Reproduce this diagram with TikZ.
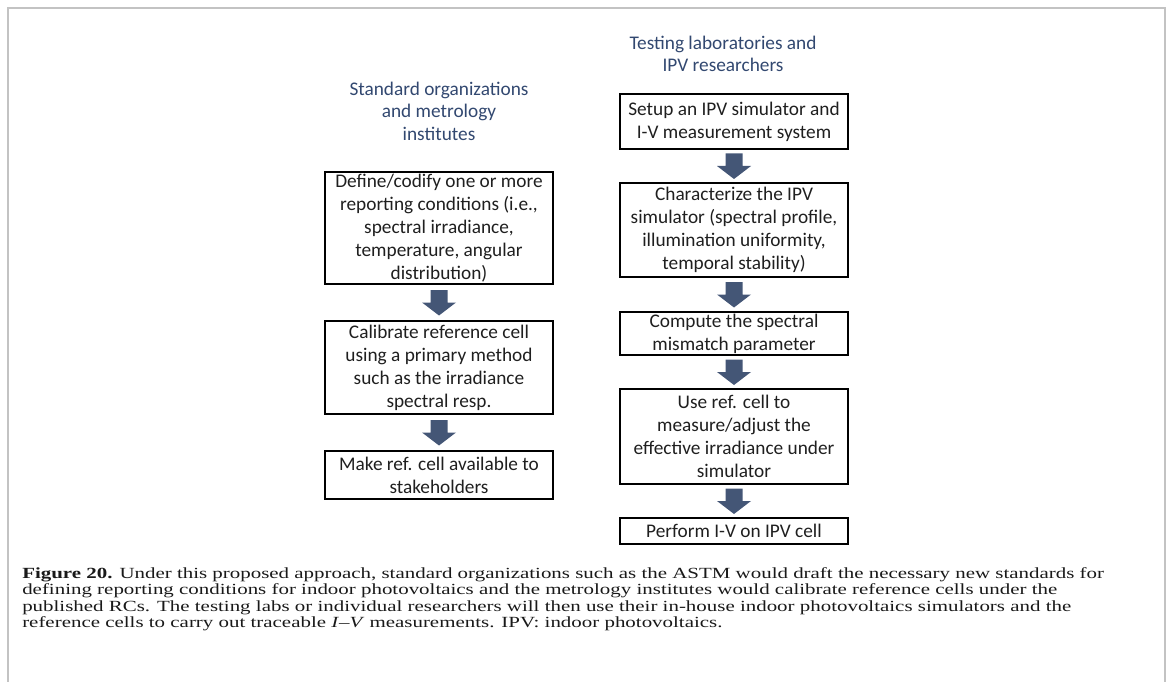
\documentclass[tikz,border=0pt]{standalone}
\usepackage{fontspec}
\setmainfont{Carlito}
\newfontfamily\capfont{Liberation Serif}
\usetikzlibrary{calc}
\definecolor{arrowc}{RGB}{68,86,118}
\definecolor{headc}{RGB}{50,72,112}
\definecolor{framec}{RGB}{195,195,195}
\tikzset{
  stepbox/.style={draw=black, line width=1.6pt, align=center, minimum width=228pt,
    inner sep=0pt, font=\fontsize{19.3}{23}\selectfont, text=black!88},
  headtext/.style={align=center, text=headc, inner sep=0pt, font=\fontsize{19.3}{22.5}\selectfont},
  capline/.style={anchor=base west, inner sep=0pt, xscale=1.35, transform shape,
    font=\capfont\fontsize{15.5}{16.5}\selectfont, text=black!90},
  barrow/.pic={\fill[arrowc] (-8.5,-12.5) -- (8.5,-12.5) -- (8.5,0) -- (17,0) -- (0,13) -- (-17,0) -- (-8.5,0) -- cycle;}
}
\begin{document}
\begin{tikzpicture}[x=1pt,y=-1pt]
\useasboundingbox (0,0) rectangle (1168,682);
\draw[framec, line width=2pt] (8,683) -- (8,8) -- (1165,8) -- (1165,683);

% headers
\node[headtext] (hL) at (439,111) {Standard organizations\\and metrology\\institutes};
\node[headtext] (hR) at (723,54) {Testing laboratories and\\IPV researchers};

% left column
\node[stepbox, minimum height=112pt] (L1) at (439,228) {Define/codify one or more\\reporting conditions (i.e.,\\spectral irradiance,\\temperature, angular\\distribution)};
\node[stepbox, minimum height=93pt] (L2) at (439,367.5) {Calibrate reference cell\\using a primary method\\such as the irradiance\\spectral resp.};
\node[stepbox, minimum height=48pt] (L3) at (439,475) {Make ref. cell available to\\stakeholders};

% right column
\node[stepbox, minimum height=55pt] (R1) at (734,121.5) {Setup an IPV simulator and\\I-V measurement system};
\node[stepbox, minimum height=94pt] (R2) at (734,230) {Characterize the IPV\\simulator (spectral profile,\\illumination uniformity,\\temporal stability)};
\node[stepbox, minimum height=43pt] (R3) at (734,333.5) {Compute the spectral\\mismatch parameter};
\node[stepbox, minimum height=95pt] (R4) at (734,436.5) {Use ref. cell to\\measure/adjust the\\effective irradiance under\\simulator};
\node[stepbox, minimum height=26pt] (R5) at (734,531) {Perform I-V on IPV cell};

% block arrows
\foreach \a/\b in {L1/L2, L2/L3, R1/R2, R2/R3, R3/R4, R4/R5}{
  \path (\a.south) -- (\b.north) coordinate[midway] (m\a);
  \pic at (m\a) {barrow};
}

% caption
\node[capline] (c1) at (22,578) {\textbf{Figure 20.} Under this proposed approach, standard organizations such as the ASTM would draft the necessary new standards for};
\node[capline] (c2) at (22,594.5) {defining reporting conditions for indoor photovoltaics and the metrology institutes would calibrate reference cells under the};
\node[capline] (c3) at (22,611) {published RCs. The testing labs or individual researchers will then use their in-house indoor photovoltaics simulators and the};
\node[capline] (c4) at (22,627.5) {reference cells to carry out traceable \textit{I}–\textit{V} measurements. IPV: indoor photovoltaics.};
\end{tikzpicture}
\end{document}
